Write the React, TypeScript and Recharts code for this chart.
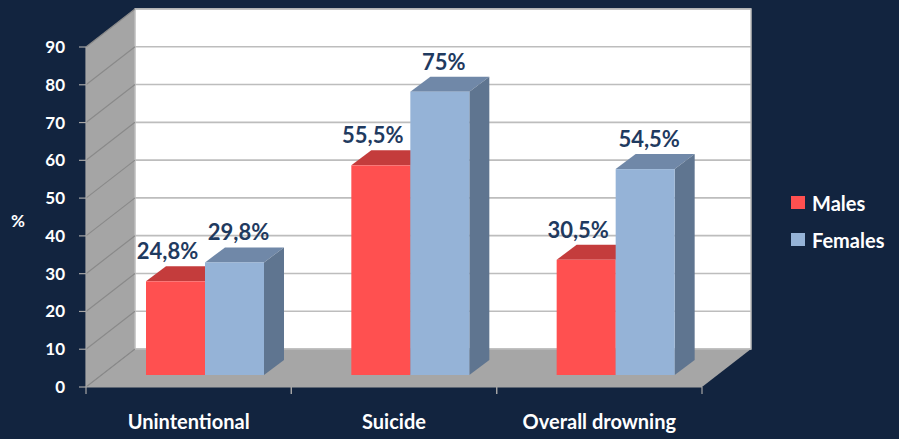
import React from 'react';
import { BarChart, Bar, XAxis, YAxis, CartesianGrid, Legend, LabelList } from 'recharts';

const categories = ['Unintentional', 'Suicide', 'Overall drowning'];
const seriesNames = ['Males', 'Females'];
const males = [24.8, 55.5, 30.5];
const females = [29.8, 75, 54.5];
const maleLabels = ['24,8%', '55,5%', '30,5%'];
const femaleLabels = ['29,8%', '75%', '54,5%'];
const yTicks = [0, 10, 20, 30, 40, 50, 60, 70, 80, 90];

const data = categories.map((c, i) => ({
  name: c,
  males: males[i],
  females: females[i],
  mLabel: maleLabels[i],
  fLabel: femaleLabels[i],
}));

const W = 899;
const H = 439;
const M = { top: 47, right: 197, bottom: 0, left: 0 };
const YW = 86;
const XH = 52;
const PL = M.left + YW;
const PT = M.top;
const PR = W - M.right;
const PB = H - M.bottom - XH;
// wall depth
const DX = 49;
const DY = -38;
// bar placement inside depth
const BX = 16;
const BY = -12;
// bar box depth
const BDX = 20;
const BDY = -15;

const BG = '#12243f';
const FONT = 'Lato, "Open Sans", sans-serif';
const LABEL_COLOR = '#1f3a5f';

const makeShape = (front: string, top: string, side: string) => (props: any) => {
  const { x, y, width, height } = props;
  if (width == null || height == null) return null;
  const x0 = x + BX;
  const y0 = y + BY;
  const x1 = x0 + width;
  const y1 = y0 + height;
  return (
    <g>
      <polygon
        points={`${x0},${y0} ${x0 + BDX},${y0 + BDY} ${x1 + BDX},${y0 + BDY} ${x1},${y0}`}
        fill={top}
      />
      <polygon
        points={`${x1},${y0} ${x1 + BDX},${y0 + BDY} ${x1 + BDX},${y1 + BDY} ${x1},${y1}`}
        fill={side}
      />
      <rect x={x0} y={y0} width={width} height={height} fill={front} />
    </g>
  );
};

const MaleShape = makeShape('#ff5050', '#c43c3c', '#b03434');
const FemaleShape = makeShape('#95b3d7', '#7088a8', '#5f7590');

const makeLabel = (key: 'mLabel' | 'fLabel', shift: number) => (props: any) => {
  const { x, y, width, index } = props;
  const text = key === 'mLabel' ? maleLabels[index] : femaleLabels[index];
  return (
    <text
      x={x + BX + width / 2 + shift}
      y={y + BY - 22}
      textAnchor="middle"
      fill={LABEL_COLOR}
      fontSize={22}
      fontWeight={700}
      fontFamily={FONT}
    >
      {text}
    </text>
  );
};

const GridLine = (props: any) => {
  const { x1, x2, y1 } = props;
  return (
    <g>
      <line x1={x1} y1={y1} x2={x1 + DX} y2={y1 + DY} stroke="#8a8a8a" strokeWidth={1.2} />
      <line x1={x1 + DX} y1={y1 + DY} x2={x2 + DX} y2={y1 + DY} stroke="#bdbdbd" strokeWidth={1.6} />
    </g>
  );
};

const CatTick = (props: any) => {
  const { x, y, payload } = props;
  const half = payload && payload.offset ? payload.offset : (PR - PL) / categories.length / 2;
  return (
    <g>
      <line x1={x - half} y1={y} x2={x - half} y2={y + 7} stroke="#a6a6a6" strokeWidth={1.2} />
      <line x1={x + half} y1={y} x2={x + half} y2={y + 7} stroke="#a6a6a6" strokeWidth={1.2} />
      <text x={x} y={y + 42} textAnchor="middle" fill="#ffffff" fontSize={20} fontWeight={700} fontFamily={FONT}>
        {payload.value}
      </text>
    </g>
  );
};

const LegendContent = (props: any) => {
  const items = [...(props.payload || [])].sort(
    (a: any, b: any) => seriesNames.indexOf(a.value) - seriesNames.indexOf(b.value)
  );
  return (
    <div style={{ fontFamily: FONT }}>
      {items.map((p: any, i: number) => (
        <div key={i} style={{ display: 'flex', alignItems: 'center', height: 37 }}>
          <span style={{ display: 'inline-block', width: 14, height: 13, background: p.color, marginRight: 7 }} />
          <span style={{ color: '#ffffff', fontSize: 20, fontWeight: 700 }}>{p.value}</span>
        </div>
      ))}
    </div>
  );
};

export default function App() {
  return (
    <div style={{ position: 'absolute', left: 0, top: 0, width: W, height: H, background: BG, overflow: 'hidden' }}>
      <svg width={W} height={H} style={{ position: 'absolute', left: 0, top: 0 }}>
        <polygon points={`${PL},${PT} ${PL + DX},${PT + DY} ${PL + DX},${PB + DY} ${PL},${PB}`} fill="#a5a5a5" />
        <rect x={PL + DX} y={PT + DY} width={PR - PL} height={PB - PT} fill="#ffffff" stroke="#bdbdbd" strokeWidth={1.5} />
        <polygon points={`${PL},${PB} ${PL + DX},${PB + DY} ${PR + DX},${PB + DY} ${PR},${PB}`} fill="#a6a6a6" />
      </svg>
      <div style={{ position: 'absolute', left: 0, top: 0 }}>
        <BarChart
          width={W}
          height={H}
          data={data}
          margin={M}
          barGap={0}
          barSize={59}
          style={{ fontFamily: FONT }}
        >
          <CartesianGrid vertical={false} horizontal={GridLine as any} />
          <XAxis
            dataKey="name"
            height={XH}
            axisLine={{ stroke: '#a6a6a6', strokeWidth: 1.2 }}
            tickLine={false}
            tickSize={0}
            tickMargin={0}
            tick={CatTick}
            interval={0}
          />
          <YAxis
            width={YW}
            domain={[0, 90]}
            ticks={yTicks}
            interval={0}
            axisLine={{ stroke: '#a6a6a6', strokeWidth: 1.2 }}
            tickLine={{ stroke: '#a6a6a6', strokeWidth: 1.2 }}
            tickSize={7}
            tickMargin={14}
            tick={{ fill: '#ffffff', fontSize: 17, fontWeight: 700, fontFamily: FONT }}
            label={{ value: '%', position: 'insideLeft', offset: 11, dy: 4, fill: '#ffffff', fontSize: 17, fontWeight: 700, fontFamily: FONT }}
          />
          <Legend
            layout="horizontal"
            verticalAlign="middle"
            align="center"
            content={LegendContent}
            wrapperStyle={{ left: 791, top: 184, width: 110, height: 80 }}
          />
          <Bar dataKey="males" name="Males" fill="#ff5050" shape={MaleShape} isAnimationActive={false}>
            <LabelList dataKey="mLabel" content={makeLabel('mLabel', -8)} />
          </Bar>
          <Bar dataKey="females" name="Females" fill="#95b3d7" shape={FemaleShape} isAnimationActive={false}>
            <LabelList dataKey="fLabel" content={makeLabel('fLabel', 4)} />
          </Bar>
        </BarChart>
      </div>
    </div>
  );
}
